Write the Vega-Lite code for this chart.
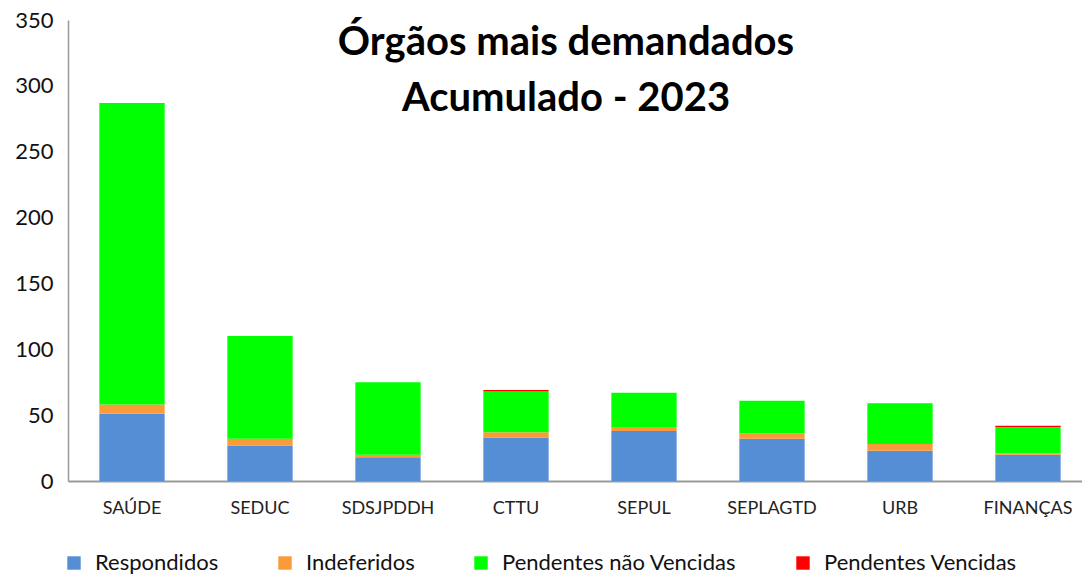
{
  "$schema": "https://vega.github.io/schema/vega-lite/v6.json",
  "autosize": "none",
  "width": 1024,
  "height": 461,
  "padding": {"left": 68, "top": 20, "right": 0, "bottom": 93},
  "background": "white",
  "title": {
    "text": ["Órgãos mais demandados", "Acumulado - 2023"],
    "font": "Lato",
    "fontSize": 40,
    "fontWeight": "bold",
    "color": "#000000",
    "lineHeight": 56,
    "anchor": "middle",
    "dx": -14,
    "offset": -110
  },
  "data": {
    "values": [
      {"orgao": "SAÚDE", "status": "Respondidos", "ord": 1, "valor": 51},
      {"orgao": "SAÚDE", "status": "Indeferidos", "ord": 2, "valor": 7},
      {"orgao": "SAÚDE", "status": "Pendentes não Vencidas", "ord": 3, "valor": 229},
      {"orgao": "SAÚDE", "status": "Pendentes Vencidas", "ord": 4, "valor": 0},
      {"orgao": "SEDUC", "status": "Respondidos", "ord": 1, "valor": 27},
      {"orgao": "SEDUC", "status": "Indeferidos", "ord": 2, "valor": 5},
      {"orgao": "SEDUC", "status": "Pendentes não Vencidas", "ord": 3, "valor": 78},
      {"orgao": "SEDUC", "status": "Pendentes Vencidas", "ord": 4, "valor": 0},
      {"orgao": "SDSJPDDH", "status": "Respondidos", "ord": 1, "valor": 18},
      {"orgao": "SDSJPDDH", "status": "Indeferidos", "ord": 2, "valor": 2},
      {"orgao": "SDSJPDDH", "status": "Pendentes não Vencidas", "ord": 3, "valor": 55},
      {"orgao": "SDSJPDDH", "status": "Pendentes Vencidas", "ord": 4, "valor": 0},
      {"orgao": "CTTU", "status": "Respondidos", "ord": 1, "valor": 33},
      {"orgao": "CTTU", "status": "Indeferidos", "ord": 2, "valor": 4},
      {"orgao": "CTTU", "status": "Pendentes não Vencidas", "ord": 3, "valor": 31},
      {"orgao": "CTTU", "status": "Pendentes Vencidas", "ord": 4, "valor": 1},
      {"orgao": "SEPUL", "status": "Respondidos", "ord": 1, "valor": 38},
      {"orgao": "SEPUL", "status": "Indeferidos", "ord": 2, "valor": 3},
      {"orgao": "SEPUL", "status": "Pendentes não Vencidas", "ord": 3, "valor": 26},
      {"orgao": "SEPUL", "status": "Pendentes Vencidas", "ord": 4, "valor": 0},
      {"orgao": "SEPLAGTD", "status": "Respondidos", "ord": 1, "valor": 32},
      {"orgao": "SEPLAGTD", "status": "Indeferidos", "ord": 2, "valor": 4},
      {"orgao": "SEPLAGTD", "status": "Pendentes não Vencidas", "ord": 3, "valor": 25},
      {"orgao": "SEPLAGTD", "status": "Pendentes Vencidas", "ord": 4, "valor": 0},
      {"orgao": "URB", "status": "Respondidos", "ord": 1, "valor": 23},
      {"orgao": "URB", "status": "Indeferidos", "ord": 2, "valor": 5},
      {"orgao": "URB", "status": "Pendentes não Vencidas", "ord": 3, "valor": 31},
      {"orgao": "URB", "status": "Pendentes Vencidas", "ord": 4, "valor": 0},
      {"orgao": "FINANÇAS", "status": "Respondidos", "ord": 1, "valor": 20},
      {"orgao": "FINANÇAS", "status": "Indeferidos", "ord": 2, "valor": 1},
      {"orgao": "FINANÇAS", "status": "Pendentes não Vencidas", "ord": 3, "valor": 20},
      {"orgao": "FINANÇAS", "status": "Pendentes Vencidas", "ord": 4, "valor": 1}
    ]
  },
  "mark": {"type": "bar"},
  "encoding": {
    "x": {
      "field": "orgao",
      "type": "nominal",
      "sort": null,
      "title": null,
      "scale": {"paddingInner": 0.49, "paddingOuter": 0.245},
      "axis": {
        "labelAngle": 0,
        "ticks": false,
        "labelFont": "Lato",
        "labelFontSize": 18,
        "labelColor": "#222222",
        "labelPadding": 18,
        "domainColor": "#999999",
        "domainWidth": 2
      }
    },
    "y": {
      "field": "valor",
      "type": "quantitative",
      "stack": "zero",
      "title": null,
      "scale": {"domain": [0, 350], "nice": false},
      "axis": {
        "values": [0, 50, 100, 150, 200, 250, 300, 350],
        "grid": false,
        "ticks": false,
        "labelFont": "Lato",
        "labelFontSize": 22,
        "labelColor": "#111111",
        "labelPadding": 15,
        "domainColor": "#999999",
        "domainWidth": 1.5
      }
    },
    "color": {
      "field": "status",
      "type": "nominal",
      "sort": ["Respondidos", "Indeferidos", "Pendentes não Vencidas", "Pendentes Vencidas"],
      "scale": {
        "domain": ["Respondidos", "Indeferidos", "Pendentes não Vencidas", "Pendentes Vencidas"],
        "range": ["#558ED5", "#F99B38", "#00FF00", "#FF0000"]
      },
      "legend": {
        "title": null,
        "orient": "none",
        "legendX": -5,
        "legendY": 532,
        "direction": "horizontal",
        "symbolType": "square",
        "symbolSize": 180,
        "symbolStrokeWidth": 0,
        "labelFont": "Lato",
        "labelFontSize": 22,
        "labelColor": "#111111",
        "columnPadding": 55,
        "labelOffset": 10,
        "labelLimit": 400
      }
    },
    "order": {"field": "ord", "type": "quantitative"}
  },
  "config": {"view": {"stroke": null}}
}
